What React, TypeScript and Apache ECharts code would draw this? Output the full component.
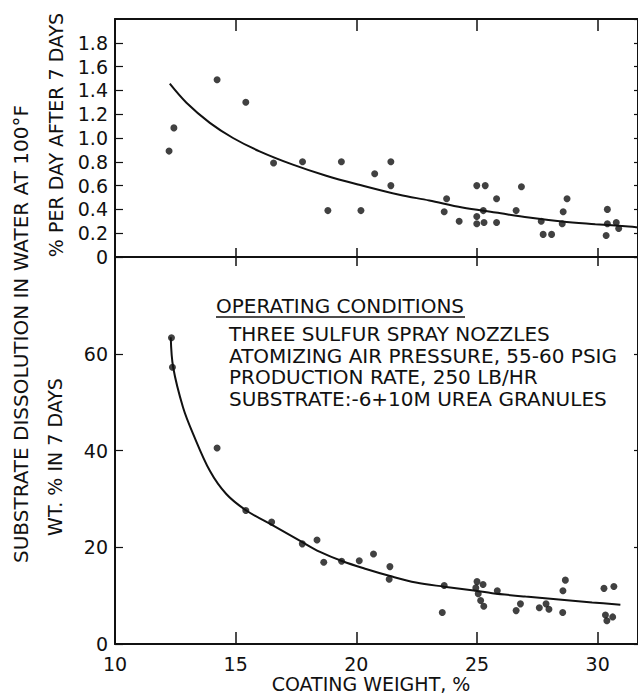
import React, { useEffect, useRef } from "react";
import * as echarts from "echarts";

// ---- data ----
const xTicks = [10, 15, 20, 25, 30];

// upper panel: % per day after 7 days
const topPointsX = [12.24, 12.44, 14.23, 15.42, 16.57, 17.77, 18.82, 19.38, 20.19, 20.76, 21.43, 21.43, 23.64, 23.74, 24.26, 24.99, 25.34, 24.99, 24.99, 25.26, 25.29, 25.81, 25.81, 26.62, 26.84, 27.66, 27.74, 28.09, 28.53, 28.57, 28.73, 30.40, 30.40, 30.35, 30.77, 30.87];
const topPointsY = [0.89, 1.085, 1.49, 1.30, 0.79, 0.80, 0.39, 0.80, 0.39, 0.70, 0.80, 0.60, 0.38, 0.49, 0.30, 0.60, 0.60, 0.34, 0.28, 0.39, 0.29, 0.49, 0.29, 0.39, 0.59, 0.30, 0.19, 0.19, 0.28, 0.38, 0.49, 0.40, 0.28, 0.18, 0.29, 0.24];
const topCurveX = [12.27, 12.96, 13.93, 14.89, 15.99, 17.37, 18.75, 20.12, 21.78, 23.02, 24.39, 25.77, 27.15, 28.52, 29.9, 31.28, 31.67];
const topCurveY = [1.456, 1.296, 1.127, 1.0, 0.888, 0.776, 0.683, 0.607, 0.523, 0.475, 0.416, 0.374, 0.331, 0.298, 0.276, 0.256, 0.248];

// lower panel: wt. % in 7 days
const botPointsX = [12.34, 12.38, 14.23, 15.42, 16.49, 17.76, 18.37, 18.65, 19.39, 20.12, 20.71, 21.39, 21.36, 23.56, 23.64, 25.0, 25.25, 24.95, 25.05, 25.15, 25.28, 25.84, 26.62, 26.8, 27.58, 27.86, 27.98, 28.55, 28.56, 28.66, 30.26, 30.67, 30.32, 30.38, 30.62];
const botPointsY = [63.3, 57.2, 40.5, 27.6, 25.2, 20.7, 21.5, 16.9, 17.1, 17.2, 18.6, 16.0, 13.4, 6.5, 12.1, 12.9, 12.3, 11.6, 10.4, 9.0, 7.8, 11.0, 6.9, 8.3, 7.5, 8.3, 7.2, 6.5, 11.0, 13.2, 11.5, 11.9, 6.0, 4.8, 5.6];
const botCurveX = [12.31, 12.41, 12.82, 13.24, 13.93, 14.61, 15.44, 16.54, 17.78, 18.47, 19.43, 20.4, 21.36, 22.47, 23.64, 24.95, 25.63, 27.01, 28.39, 29.77, 30.94];
const botCurveY = [63.4, 57.2, 48.9, 43.4, 35.8, 31.0, 27.6, 24.5, 21.0, 19.1, 17.1, 15.5, 14.1, 12.7, 11.85, 11.0, 10.5, 9.8, 9.2, 8.6, 8.1];

const conditionsTitle = "OPERATING CONDITIONS";
const conditionsLines = [
  "THREE SULFUR SPRAY NOZZLES",
  "ATOMIZING AIR PRESSURE, 55-60 PSIG",
  "PRODUCTION RATE, 250 LB/HR",
  "SUBSTRATE:-6+10M UREA GRANULES",
];

const FONT = '"DejaVu Sans", sans-serif';
const INK = "#111";
const X_MIN = xTicks[0];
const X_MAX = 31.67;

const zip = (xs: number[], ys: number[]) => xs.map((x, i) => [x, ys[i]]);

export default function App() {
  const ref = useRef<HTMLDivElement>(null);

  useEffect(() => {
    if (!ref.current) return;
    const chart = echarts.init(ref.current, null, { renderer: "svg" });
    const line = { color: INK, width: 2 };
    const baseX = (gridIndex: number, position: string, tickLen: number, labels: boolean) => ({
      type: "value",
      gridIndex,
      position,
      min: X_MIN,
      max: X_MAX,
      interval: 5,
      axisLine: { show: true, onZero: false, lineStyle: line },
      axisTick: { show: true, inside: true, length: tickLen, lineStyle: { color: INK, width: 1.5 } },
      axisLabel: {
        show: labels,
        showMaxLabel: false,
        margin: 11,
        color: INK,
        fontFamily: FONT,
        fontSize: 19,
        lineHeight: 17,
      },
      splitLine: { show: false },
    });
    const baseY = (gridIndex: number, position: string, max: number, interval: number, labels: boolean, tickLen: number, dec: boolean) => ({
      type: "value",
      gridIndex,
      position,
      min: 0,
      max,
      interval,
      axisLine: { show: true, onZero: false, lineStyle: line },
      axisTick: { show: true, inside: true, length: tickLen, lineStyle: { color: INK, width: 1.2 } },
      axisLabel: {
        show: labels,
        showMaxLabel: false,
        margin: 7,
        color: INK,
        fontFamily: FONT,
        fontSize: 19,
        lineHeight: 19,
        formatter: (v: number) => (v === 0 ? "0" : dec ? v.toFixed(1) : String(Math.round(v))),
      },
      splitLine: { show: false },
    });

    const option: any = {
      animation: false,
      backgroundColor: "#fff",
      grid: [
        { left: 115, top: 19, width: 525, height: 238 },
        { left: 115, top: 257, width: 525, height: 387 },
      ],
      xAxis: [
        baseX(0, "bottom", 9, false),
        baseX(0, "top", 12, false),
        baseX(1, "top", 9, false),
        baseX(1, "bottom", 12, true),
      ],
      yAxis: [
        baseY(0, "left", 2, 0.2, true, 8, true),
        baseY(0, "right", 2, 0.2, false, 4, true),
        baseY(1, "left", 80, 20, true, 8, false),
        baseY(1, "right", 80, 20, false, 4, false),
      ],
      series: [
        {
          type: "line",
          xAxisIndex: 0,
          yAxisIndex: 0,
          data: zip(topCurveX, topCurveY),
          smooth: 0.35,
          showSymbol: false,
          lineStyle: { color: INK, width: 2 },
        },
        {
          type: "scatter",
          xAxisIndex: 0,
          yAxisIndex: 0,
          data: zip(topPointsX, topPointsY),
          symbolSize: 7,
          itemStyle: { color: INK },
        },
        {
          type: "line",
          xAxisIndex: 3,
          yAxisIndex: 2,
          data: zip(botCurveX, botCurveY),
          smooth: 0.35,
          showSymbol: false,
          lineStyle: { color: INK, width: 2 },
        },
        {
          type: "scatter",
          xAxisIndex: 3,
          yAxisIndex: 2,
          data: zip(botPointsX, botPointsY),
          symbolSize: 7,
          itemStyle: { color: INK },
        },
      ],
      graphic: [
        {
          type: "text",
          x: 21,
          y: 334,
          rotation: Math.PI / 2,
          style: { text: "SUBSTRATE DISSOLUTION IN WATER AT 100°F", font: `20px ${FONT}`, fill: INK, align: "center", verticalAlign: "middle" },
        },
        {
          type: "text",
          x: 56,
          y: 135,
          rotation: Math.PI / 2,
          style: { text: "% PER DAY AFTER 7 DAYS", font: `19px ${FONT}`, fill: INK, align: "center", verticalAlign: "middle" },
        },
        {
          type: "text",
          x: 55,
          y: 457,
          rotation: Math.PI / 2,
          style: { text: "WT. % IN 7 DAYS", font: `19px ${FONT}`, fill: INK, align: "center", verticalAlign: "middle" },
        },
        {
          type: "text",
          x: 371,
          y: 684,
          style: { text: "COATING WEIGHT, %", font: `19px ${FONT}`, fill: INK, align: "center", verticalAlign: "middle", lineHeight: 17 },
        },
        {
          type: "text",
          x: 216,
          y: 306,
          style: { text: conditionsTitle, font: `20px ${FONT}`, fill: INK, align: "left", verticalAlign: "middle", lineHeight: 20 },
        },
        {
          type: "line",
          shape: { x1: 216, y1: 317, x2: 465, y2: 317 },
          style: { stroke: INK, lineWidth: 1.5 },
        },
        {
          type: "text",
          x: 229,
          y: 323,
          style: {
            text: conditionsLines.join("\n"),
            font: `20px ${FONT}`,
            lineHeight: 21.7,
            fill: INK,
            align: "left",
            verticalAlign: "top",
          },
        },
      ],
    };
    chart.setOption(option);
    return () => chart.dispose();
  }, []);

  return (
    <div
      ref={ref}
      style={{ position: "fixed", left: 0, top: 0, width: 638, height: 694, background: "#fff" }}
    />
  );
}
